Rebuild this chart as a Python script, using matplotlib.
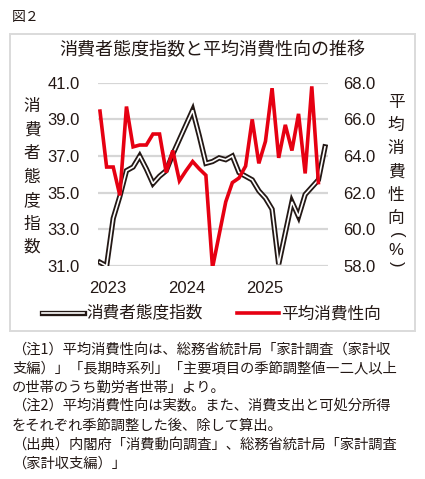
import matplotlib
matplotlib.use("Agg")
import matplotlib.pyplot as plt
from matplotlib.lines import Line2D
from matplotlib.patches import Rectangle

# data: monthly, Jan 2023 onward
cci = [31.2, 31.0, 33.6, 34.8, 36.2, 36.4, 37.0, 36.3, 35.5, 35.9, 36.2, 37.1,
       37.9, 38.7, 39.5, 38.1, 36.6, 36.7, 36.9, 36.8, 37.0, 36.1, 35.9, 35.7,
       35.1, 34.7, 34.1, 31.1, 32.8, 34.5, 33.7, 34.9, 35.3, 35.7, 37.5]
apc = [66.45, 63.4, 63.4, 61.85, 66.7, 64.5, 64.6, 64.6, 65.2, 65.2, 63.1, 64.3,
       62.65, 63.2, 63.7, 63.3, 62.95, 57.9, 59.7, 61.5, 62.55, 62.8, 63.45, 66.0,
       63.6, 64.8, 67.7, 63.9, 65.7, 64.3, 66.3, 63.05, 67.8, 62.55]
years = ["2023", "2024", "2025"]
left_ticks = [31.0, 33.0, 35.0, 37.0, 39.0, 41.0]
right_ticks = [58.0, 60.0, 62.0, 64.0, 66.0, 68.0]

title = "消費者態度指数と平均消費性向の推移"
fig_label = "図２"
left_name = "消費者態度指数"
right_name = "平均消費性向"
notes = [
    "（注1）平均消費性向は、総務省統計局「家計調査（家計収",
    "支編）」「長期時系列」「主要項目の季節調整値―二人以上",
    "の世帯のうち勤労者世帯」より。",
    "（注2）平均消費性向は実数。また、消費支出と可処分所得",
    "をそれぞれ季節調整した後、除して算出。",
    "（出典）内閣府「消費動向調査」、総務省統計局「家計調査",
    "（家計収支編）」",
]

W, H = 425, 479
INK = "#231815"
RED = "#e60012"
GRID = "#d6d6d6"
JP = ["Noto Sans CJK JP", "DejaVu Sans"]
NUM = ["Liberation Sans", "DejaVu Sans"]

fig = plt.figure(figsize=(W / 100, H / 100), dpi=100)

def fx(px):
    return px / W

def fy(py):
    return 1 - py / H

# outer frame
fig.patches.append(Rectangle((fx(9.5), fy(330.5)), fx(405.5), (330.5 - 33.5) / H,
                             transform=fig.transFigure, fill=False,
                             edgecolor="#dadada", linewidth=1.4))

fig.text(fx(12), fy(17), fig_label, family=JP, fontsize=10, color=INK,
         ha="left", va="center")
fig.text(fx(212), fy(50), title, family=JP, fontsize=13, color=INK,
         ha="center", va="center")

ax = fig.add_axes([fx(98), fy(266), fx(230), (266 - 82.7) / H])
x = list(range(len(cci)))
ax.plot(x, cci, color=INK, lw=3.8, solid_joinstyle="miter", zorder=3)
ax.plot(x, cci, color="white", lw=1.2, solid_joinstyle="miter", zorder=4)
ax.set_ylim(31, 41)
ax.set_xlim(-0.3, 34.45)
ax.set_yticks(left_ticks)
ax.set_yticklabels([f"{v:.1f}" for v in left_ticks])
ax.set_xticks([1.15, 13.05, 24.95])
ax.set_xticklabels(years)
ax.yaxis.grid(True, color=GRID, lw=1.6)
ax.set_axisbelow(True)
ax.tick_params(axis="y", length=0, pad=13, labelsize=12, labelcolor=INK)
ax.tick_params(axis="x", length=0, pad=11, labelsize=12, labelcolor=INK)
for lab in ax.get_xticklabels() + ax.get_yticklabels():
    lab.set_family(NUM)
for s in ax.spines.values():
    s.set_visible(False)

ax2 = ax.twinx()
ax2.plot(range(len(apc)), apc, color=RED, lw=2.6, solid_joinstyle="miter")
ax2.set_ylim(58, 68)
ax2.set_yticks(right_ticks)
ax2.set_yticklabels([f"{v:.1f}" for v in right_ticks])
ax2.tick_params(axis="y", length=0, pad=11, labelsize=12, labelcolor=INK)
for lab in ax2.get_yticklabels():
    lab.set_family(NUM)
for s in ax2.spines.values():
    s.set_visible(False)

# vertical axis titles
for i, ch in enumerate(left_name):
    fig.text(fx(32), fy(107 + i * 23.4), ch, family=JP, fontsize=12,
             color=INK, ha="center", va="center")
for i, ch in enumerate(right_name):
    fig.text(fx(396), fy(102 + i * 23.3), ch, family=JP, fontsize=12,
             color=INK, ha="center", va="center")
# unit (%) written vertically: brackets turned a quarter turn
fig.text(fx(396), fy(235), "(", family=NUM, fontsize=12, color=INK,
         ha="center", va="center", rotation=-90)
fig.text(fx(396), fy(250), "%", family=NUM, fontsize=12, color=INK,
         ha="center", va="center")
fig.text(fx(396), fy(264), ")", family=NUM, fontsize=12, color=INK,
         ha="center", va="center", rotation=-90)

# legend
h_black = (Line2D([], [], color=INK, lw=3.8), Line2D([], [], color="white", lw=1.2))
h_red = Line2D([], [], color=RED, lw=2.6)
leg = fig.legend([h_black, h_red], [left_name, right_name], ncol=2,
                 loc="center", bbox_to_anchor=(fx(211.5), fy(314)),
                 frameon=False, handlelength=2.5, handletextpad=0.12,
                 columnspacing=2.1, borderpad=0,
                 prop={"family": JP, "size": 12})
for t in leg.get_texts():
    t.set_color(INK)

# notes
for i, line in enumerate(notes):
    fig.text(fx(12), fy(350 + i * 18.9), line, family=JP, fontsize=10.3,
             color=INK, ha="left", va="center")

fig.savefig("out.png", dpi=100)
